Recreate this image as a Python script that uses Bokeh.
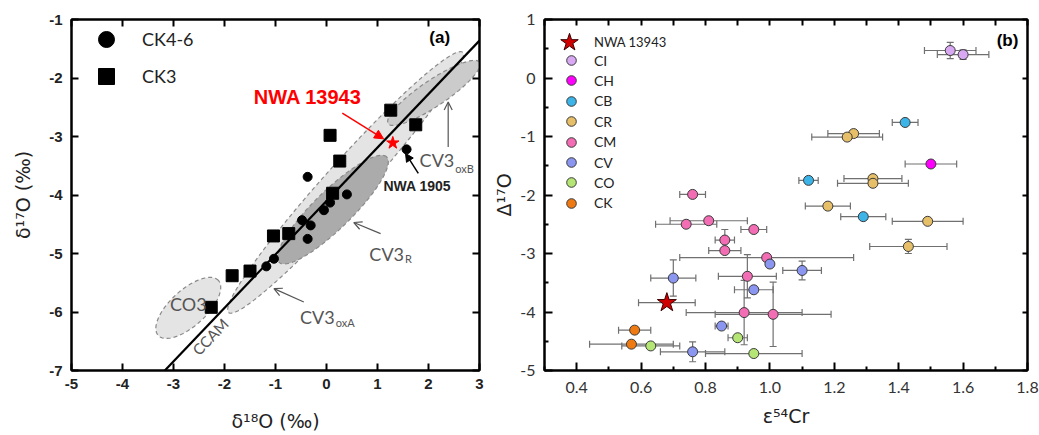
import numpy as np
from bokeh.plotting import figure
from bokeh.models import (ColumnDataSource, Whisker, TeeHead, Arrow, NormalHead, OpenHead,
                          Label, Legend, LegendItem, LinearAxis, FixedTicker, Range1d)
from bokeh.layouts import row
from bokeh.embed import file_html
from bokeh.resources import INLINE

# ---------------- Panel (a) data ----------------
a_xticks = [-5, -4, -3, -2, -1, 0, 1, 2, 3]
a_yticks = [-7, -6, -5, -4, -3, -2, -1]
ck46_x = [1.57, -0.37, 0.40, 0.07, -0.05, -0.48, -0.31, -0.37, -1.03, -1.18]
ck46_y = [-3.22, -3.69, -3.99, -4.13, -4.26, -4.43, -4.52, -4.75, -5.09, -5.22]
ck3_x = [1.26, 1.75, 0.07, 0.26, 0.12, -1.04, -0.74, -1.85, -1.50, -2.26]
ck3_y = [-2.55, -2.80, -2.98, -3.42, -3.97, -4.70, -4.66, -5.38, -5.30, -5.92]
nwa_a_x = [1.30]
nwa_a_y = [-3.11]
ccam_x = [-3.17, 3.0]
ccam_y = [-7.0, -1.36]
# fields (ellipses): major-axis end points in data units
field_names = ["CV3oxA", "CO3", "CV3oxB", "CV3R"]
field_x0 = [-1.92, -3.30, 1.21, -0.93]
field_y0 = [-6.01, -6.40, -2.78, -5.15]
field_x1 = [2.67, -2.12, 3.00, 1.18]
field_y1 = [-1.56, -5.46, -1.73, -3.35]
field_width_px = [40, 36, 26, 38]
field_colors = ["#e4e4e4", "#e4e4e4", "#cbcbcb", "#ababab"]

# ---------------- Panel (b) data ----------------
b_xticks = [0.4, 0.6, 0.8, 1.0, 1.2, 1.4, 1.6, 1.8]
b_xlabels = ["0.4", "0.6", "0.8", "1.0", "1.2", "1.4", "1.6", "1.8"]
b_xminor = [0.3, 0.5, 0.7, 0.9, 1.1, 1.3, 1.5, 1.7]
b_yticks = [-5, -4, -3, -2, -1, 0, 1]
b_yminor = [-4.5, -3.5, -2.5, -1.5, -0.5, 0.5]

nwa_b_x = [0.68]
nwa_b_y = [-3.84]
nwa_b_xerr = [0.088]
nwa_b_yerr = [0.0]

group_names = ["CI", "CH", "CB", "CR", "CM", "CV", "CO", "CK"]
group_colors = ["#d9a8f2", "#ff00ff", "#3cb4e8", "#e6bf68", "#f26db4", "#8b96f0", "#b5e675", "#f07a12"]
ci_x = [1.56, 1.60]
ci_y = [0.47, 0.40]
ci_xerr = [0.08, 0.08]
ci_yerr = [0.14, 0.08]
ch_x = [1.50]
ch_y = [-1.47]
ch_xerr = [0.08]
ch_yerr = [0.0]
cb_x = [1.42, 1.12, 1.29]
cb_y = [-0.76, -1.75, -2.37]
cb_xerr = [0.04, 0.03, 0.07]
cb_yerr = [0.0, 0.0, 0.0]
cr_x = [1.26, 1.24, 1.32, 1.32, 1.18, 1.49, 1.43]
cr_y = [-0.95, -1.01, -1.72, -1.80, -2.19, -2.45, -2.88]
cr_xerr = [0.08, 0.11, 0.09, 0.11, 0.07, 0.11, 0.12]
cr_yerr = [0.0, 0.0, 0.0, 0.0, 0.0, 0.0, 0.12]
cm_x = [0.76, 0.74, 0.81, 0.95, 0.86, 0.86, 0.99, 0.93, 0.92, 1.01]
cm_y = [-1.99, -2.50, -2.44, -2.59, -2.77, -2.95, -3.07, -3.39, -4.01, -4.04]
cm_xerr = [0.04, 0.095, 0.12, 0.04, 0.03, 0.05, 0.27, 0.09, 0.18, 0.18]
cm_yerr = [0.0, 0.0, 0.0, 0.0, 0.18, 0.0, 0.0, 0.37, 0.55, 0.55]
cv_x = [0.70, 1.00, 1.10, 0.95, 0.85, 0.76]
cv_y = [-3.42, -3.18, -3.29, -3.62, -4.24, -4.68]
cv_xerr = [0.07, 0.01, 0.06, 0.06, 0.02, 0.10]
cv_yerr = [0.31, 0.0, 0.16, 0.0, 0.0, 0.17]
co_x = [0.63, 0.90, 0.95]
co_y = [-4.58, -4.44, -4.71]
co_xerr = [0.09, 0.03, 0.15]
co_yerr = [0.0, 0.0, 0.0]
ck_x = [0.58, 0.57]
ck_y = [-4.31, -4.55]
ck_xerr = [0.05, 0.13]
ck_yerr = [0.0, 0.0]

groups = [
    (ci_x, ci_y, ci_xerr, ci_yerr),
    (ch_x, ch_y, ch_xerr, ch_yerr),
    (cb_x, cb_y, cb_xerr, cb_yerr),
    (cr_x, cr_y, cr_xerr, cr_yerr),
    (cm_x, cm_y, cm_xerr, cm_yerr),
    (cv_x, cv_y, cv_xerr, cv_yerr),
    (co_x, co_y, co_xerr, co_yerr),
    (ck_x, ck_y, ck_xerr, ck_yerr),
]

# ---------------- helpers ----------------
def ellipse_poly(x0, y0, x1, y1, width_px, sx, sy, n=120):
    X0, Y0, X1, Y1 = x0 * sx, y0 * sy, x1 * sx, y1 * sy
    cx, cy = (X0 + X1) / 2, (Y0 + Y1) / 2
    a = np.hypot(X1 - X0, Y1 - Y0) / 2
    b = width_px / 2
    th = np.arctan2(Y1 - Y0, X1 - X0)
    t = np.linspace(0, 2 * np.pi, n)
    X = cx + a * np.cos(t) * np.cos(th) - b * np.sin(t) * np.sin(th)
    Y = cy + a * np.cos(t) * np.sin(th) + b * np.sin(t) * np.cos(th)
    return list(X / sx), list(Y / sy)


def tick_axis(ticks, tick_in, minor=None, minor_in=0):
    ax = LinearAxis(ticker=FixedTicker(ticks=ticks, minor_ticks=minor or []),
                    major_tick_in=tick_in, major_tick_out=0,
                    minor_tick_in=minor_in, minor_tick_out=0,
                    axis_line_width=2, axis_line_color="black",
                    major_tick_line_width=2, minor_tick_line_width=1.5,
                    major_label_text_font_size="0px", major_label_standoff=0,
                    major_label_overrides={t: "" for t in ticks})
    return ax


ERR = "#707070"


def add_errors(p, xs, ys, xerr, yerr):
    ix = [i for i in range(len(xs)) if xerr[i] > 0]
    if ix:
        src = ColumnDataSource(dict(b=[ys[i] for i in ix],
                                    lo=[xs[i] - xerr[i] for i in ix],
                                    hi=[xs[i] + xerr[i] for i in ix]))
        p.add_layout(Whisker(source=src, base="b", lower="lo", upper="hi", dimension="width",
                             line_color=ERR, line_width=1.2, level="underlay",
                             upper_head=TeeHead(size=7, line_color=ERR, line_width=1.2),
                             lower_head=TeeHead(size=7, line_color=ERR, line_width=1.2)))
    iy = [i for i in range(len(xs)) if yerr[i] > 0]
    if iy:
        src = ColumnDataSource(dict(b=[xs[i] for i in iy],
                                    lo=[ys[i] - yerr[i] for i in iy],
                                    hi=[ys[i] + yerr[i] for i in iy]))
        p.add_layout(Whisker(source=src, base="b", lower="lo", upper="hi", dimension="height",
                             line_color=ERR, line_width=1.2, level="underlay",
                             upper_head=TeeHead(size=7, line_color=ERR, line_width=1.2),
                             lower_head=TeeHead(size=7, line_color=ERR, line_width=1.2)))


def one_item_legend(label, renderer, location, glyph_w, glyph_h, standoff, font_size, pad=0):
    return Legend(items=[LegendItem(label=label, renderers=[renderer])],
                  location=location, margin=0, padding=pad,
                  glyph_width=glyph_w, glyph_height=glyph_h, label_height=glyph_h,
                  label_standoff=standoff,
                  label_text_font="Lato", label_text_font_size=font_size,
                  label_text_color="#222222",
                  border_line_color=None, background_fill_alpha=0)


def style_title(ax, text, standoff):
    ax.axis_label = text
    ax.axis_label_text_font = "DejaVu Sans"
    ax.axis_label_text_font_size = "19px"
    ax.axis_label_text_font_style = "normal"
    ax.axis_label_text_color = "#222222"
    ax.axis_label_standoff = standoff


# ================= Panel (a) =================
A_FW, A_FH = 408, 351
pa = figure(width=490, height=435, x_range=Range1d(-5, 3), y_range=Range1d(-7, -1),
            output_backend="svg", toolbar_location=None,
            min_border_left=71, min_border_right=11, min_border_top=19, min_border_bottom=65)
pa.grid.visible = False
pa.outline_line_color = "black"
pa.outline_line_width = 2

sxa, sya = A_FW / 8, A_FH / 6
for x0, y0, x1, y1, w, c in zip(field_x0, field_y0, field_x1, field_y1, field_width_px, field_colors):
    ex, ey = ellipse_poly(x0, y0, x1, y1, w, sxa, sya)
    pa.patch(ex, ey, fill_color=c, line_color="#8a8a8a", line_dash="4 3", line_width=1.2)

pa.line(ccam_x, ccam_y, line_color="black", line_width=2.2)
r_circ = pa.scatter(ck46_x, ck46_y, marker="circle", size=9, fill_color="black", line_color="black")
r_sq = pa.scatter(ck3_x, ck3_y, marker="square", size=12, fill_color="black", line_color="black")
pa.scatter(nwa_a_x, nwa_a_y, marker="star", size=13, fill_color="red", line_color="red")

GRAY = "#555555"
lab_font = "Lato"
# "CV3" right-aligned, subscript left-aligned at the same x
for main, sub, xj, ym, ys in [("CV3", "oxB", 2.505, -3.41, -3.55),
                              ("CV3", "R", 1.52, -5.0, -5.09),
                              ("CV3", "oxA", 0.16, -6.09, -6.18)]:
    pa.add_layout(Label(x=xj, y=ym, text=main, text_font=lab_font, text_font_size="18px",
                        text_color=GRAY, text_align="right", text_baseline="middle"))
    pa.add_layout(Label(x=xj + 0.02, y=ys, text=sub, text_font=lab_font, text_font_size="11px",
                        text_color=GRAY, text_align="left", text_baseline="middle"))
pa.add_layout(Label(x=-2.71, y=-5.87, text="CO3", text_font=lab_font, text_font_size="18px",
                    text_color=GRAY, text_align="center", text_baseline="middle"))
pa.add_layout(Label(x=-2.28, y=-6.42, text="CCAM", text_font=lab_font, text_font_size="15px",
                    text_color=GRAY, text_align="center", text_baseline="middle", angle=0.80))
pa.add_layout(Label(x=-0.37, y=-2.33, text="NWA 13943", text_font="Liberation Sans",
                    text_font_style="bold", text_font_size="20px", text_color="#ff0000",
                    text_align="center", text_baseline="middle"))
pa.add_layout(Label(x=1.78, y=-3.85, text="NWA 1905", text_font="Liberation Sans",
                    text_font_style="bold", text_font_size="14px", text_color="#222222",
                    text_align="center", text_baseline="middle"))
pa.add_layout(Label(x=2.22, y=-1.31, text="(a)", text_font="Liberation Sans",
                    text_font_style="bold", text_font_size="17px", text_color="black",
                    text_align="center", text_baseline="middle"))

pa.add_layout(Arrow(x_start=0.31, y_start=-2.60, x_end=1.12, y_end=-3.04, line_color="red",
                    line_width=1.5, end=NormalHead(size=9, fill_color="red", line_color="red")))
pa.add_layout(Arrow(x_start=1.80, y_start=-3.63, x_end=1.55, y_end=-3.29, line_color="black",
                    line_width=1.5, end=NormalHead(size=8, fill_color="black", line_color="black")))
for xs_, ys_, xe_, ye_ in [(2.386, -3.18, 2.386, -2.41), (1.06, -4.66, 0.535, -4.47),
                           (-0.445, -5.83, -1.03, -5.60)]:
    pa.add_layout(Arrow(x_start=xs_, y_start=ys_, x_end=xe_, y_end=ye_, line_color=GRAY,
                        line_width=1.2, end=OpenHead(size=8, line_color=GRAY, line_width=1.2)))

# legend (a): one legend per entry, 29 px apart
LEG_A_PITCH = 29
pa.add_layout(one_item_legend("CK4-6", r_circ, "top_left", 70, 40, 1, "18px", pad=4))
pa.add_layout(one_item_legend("CK3", r_sq, (0, A_FH - 48 - LEG_A_PITCH), 70, 40, 1, "18px", pad=4))

pa.xaxis.ticker = FixedTicker(ticks=a_xticks)
pa.yaxis.ticker = FixedTicker(ticks=a_yticks)
pa.xaxis.major_label_overrides = {t: str(t) for t in a_xticks}
pa.yaxis.major_label_overrides = {t: str(t) for t in a_yticks}
for ax in (pa.xaxis[0], pa.yaxis[0]):
    ax.axis_line_width = 2
    ax.major_tick_in = 7
    ax.major_tick_out = 0
    ax.major_tick_line_width = 2
    ax.minor_tick_in = 0
    ax.minor_tick_out = 0
    ax.major_label_text_font = "Liberation Sans"
    ax.major_label_text_font_style = "bold"
    ax.major_label_text_font_size = "15px"
    ax.major_label_text_color = "#222222"
pa.xaxis.major_label_standoff = 8
pa.yaxis.major_label_standoff = 9
style_title(pa.xaxis[0], "δ¹⁸O (‰)", 18)
style_title(pa.yaxis[0], "δ¹⁷O (‰)", 12)
pa.add_layout(tick_axis(a_xticks, 7), "above")
pa.add_layout(tick_axis(a_yticks, 7), "right")

# ================= Panel (b) =================
B_FW, B_FH = 484, 354
pb = figure(width=549, height=435, x_range=Range1d(0.3, 1.8), y_range=Range1d(-5, 1),
            output_backend="svg", toolbar_location=None,
            min_border_left=53, min_border_right=12, min_border_top=19, min_border_bottom=62)
pb.grid.visible = False
pb.outline_line_color = "black"
pb.outline_line_width = 2

add_errors(pb, nwa_b_x, nwa_b_y, nwa_b_xerr, nwa_b_yerr)
for (gx, gy, gxe, gye) in groups:
    add_errors(pb, gx, gy, gxe, gye)

group_renderers = []
for (gx, gy, gxe, gye), col in zip(groups, group_colors):
    r = pb.scatter(gx, gy, marker="circle", size=10, fill_color=col,
                   line_color="#3a3a3a", line_width=1)
    group_renderers.append(r)
r_star = pb.scatter(nwa_b_x, nwa_b_y, marker="star", size=20, fill_color="#d10000",
                    line_color="#3a0000", line_width=1)

# legend (b): star entry at the top, then one entry per group
pb.add_layout(one_item_legend("NWA 13943", r_star, "top_left", 50, 46, 0, "13px"))
LEG_B_FIRST = 44     # centre of first group entry below the frame top (px)
LEG_B_PITCH = 20.4
for i, (n, r) in enumerate(zip(group_names, group_renderers)):
    centre = LEG_B_FIRST + i * LEG_B_PITCH
    pb.add_layout(one_item_legend(n, r, (15, B_FH - centre - 12), 24, 24, 11, "14px"))

pb.add_layout(Label(x=1.738, y=0.64, text="(b)", text_font="Liberation Sans",
                    text_font_style="bold", text_font_size="17px", text_color="black",
                    text_align="center", text_baseline="middle"))

pb.xaxis.ticker = FixedTicker(ticks=b_xticks, minor_ticks=b_xminor)
pb.yaxis.ticker = FixedTicker(ticks=b_yticks, minor_ticks=b_yminor)
pb.xaxis.major_label_overrides = dict(zip(b_xticks, b_xlabels))
pb.yaxis.major_label_overrides = {t: str(t) for t in b_yticks}
for ax in (pb.xaxis[0], pb.yaxis[0]):
    ax.axis_line_width = 2
    ax.major_tick_in = 8
    ax.major_tick_out = 0
    ax.major_tick_line_width = 2
    ax.minor_tick_in = 4
    ax.minor_tick_out = 0
    ax.minor_tick_line_width = 2
    ax.major_label_text_font = "Lato"
    ax.major_label_text_font_size = "16px"
    ax.major_label_text_color = "#333333"
pb.xaxis.major_label_standoff = 11
pb.yaxis.major_label_standoff = 9
style_title(pb.xaxis[0], "ε⁵⁴Cr", 9)
style_title(pb.yaxis[0], "Δ¹⁷O", 2)
pb.add_layout(tick_axis(b_xticks + b_xminor, 6), "above")
pb.add_layout(tick_axis(b_yticks, 5), "right")

layout = row(pa, pb)
open("out.html", "w").write(file_html(layout, INLINE))
